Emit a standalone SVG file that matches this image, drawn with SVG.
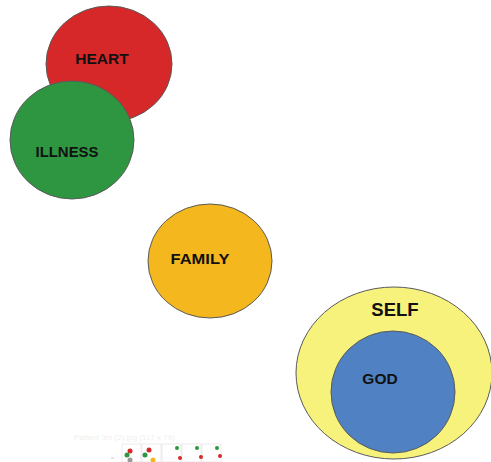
<svg xmlns="http://www.w3.org/2000/svg" width="491" height="462" viewBox="0 0 491 462">
<style>
.c{stroke:#5a5a5a;stroke-width:1}
.t{font-family:"Liberation Sans",Arial,sans-serif;font-weight:bold;fill:#111;text-anchor:middle}
.th{fill:#fff;stroke:#ddd;stroke-width:0.6}
</style>
<rect width="491" height="462" fill="#fff"/>
<g id="heart">
<ellipse class="c" cx="109" cy="64" rx="63" ry="58" fill="#d62828"/>
<text class="t" x="102" y="64" font-size="15.5">HEART</text>
</g>
<g id="illness">
<ellipse class="c" cx="72" cy="140" rx="62" ry="59" fill="#2e9640"/>
<text class="t" x="67" y="157" font-size="15" textLength="63" lengthAdjust="spacingAndGlyphs">ILLNESS</text>
</g>
<g id="family">
<ellipse class="c" cx="210" cy="261" rx="62" ry="57" fill="#f4b71e"/>
<text class="t" x="200" y="264" font-size="15.5" textLength="59" lengthAdjust="spacingAndGlyphs">FAMILY</text>
</g>
<g id="self">
<ellipse class="c" cx="394" cy="373" rx="98" ry="86" fill="#f6f27c"/>
<text class="t" x="395" y="316" font-size="18.5">SELF</text>
</g>
<g id="god">
<ellipse class="c" cx="393" cy="392" rx="62" ry="61" fill="#4f81c3"/>
<text class="t" x="380" y="384" font-size="15.5">GOD</text>
</g>
<g id="footer">
<text x="74" y="440" font-family="Liberation Sans,Arial,sans-serif" font-size="8" fill="#f0f0f0">Patient 3m (2).jpg (117 x 79)</text>
<line x1="111" y1="458" x2="114" y2="458" stroke="#ccc"/>
<rect class="th" x="122" y="444" width="19" height="18"/>
<rect class="th" x="142" y="444" width="19" height="18"/>
<rect class="th" x="162" y="444" width="19" height="18"/>
<rect class="th" x="182" y="444" width="19" height="18"/>
<rect class="th" x="202" y="444" width="19" height="18"/>
<circle cx="130" cy="451" r="2.5" fill="#d62828"/><circle cx="127" cy="455" r="2.5" fill="#2e9640"/><circle cx="130" cy="460" r="2.5" fill="#999"/>
<circle cx="149" cy="450" r="2.5" fill="#d62828"/><circle cx="145" cy="455" r="2.5" fill="#2e9640"/><circle cx="153" cy="460" r="2.5" fill="#f4b71e"/>
<circle cx="177" cy="448" r="2" fill="#2e9640"/><circle cx="180" cy="458" r="2" fill="#d62828"/>
<circle cx="197" cy="448" r="2" fill="#2e9640"/><circle cx="201" cy="457" r="2" fill="#d62828"/>
<circle cx="217" cy="448" r="2" fill="#2e9640"/><circle cx="220" cy="456" r="2" fill="#d62828"/>
</g>
</svg>
